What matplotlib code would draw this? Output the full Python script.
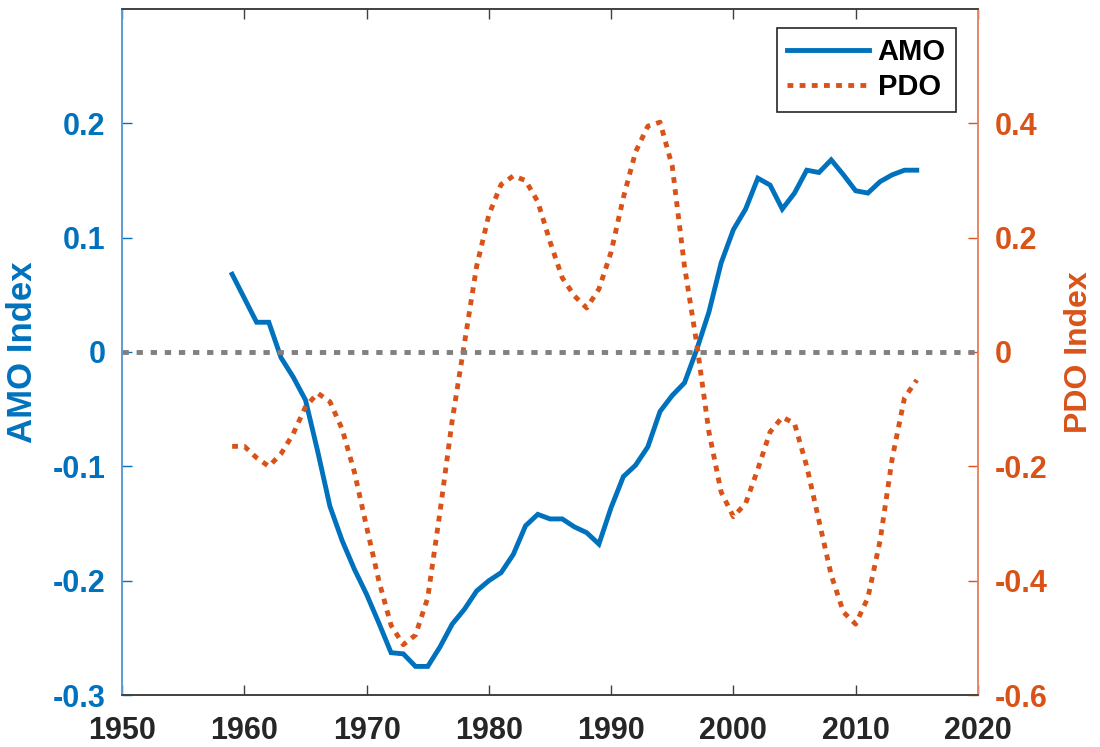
import numpy as np
import matplotlib
matplotlib.use('Agg')
from matplotlib import pyplot as plt

# Data
years = list(range(1959, 2016))

amo = [0.068, 0.047, 0.026, 0.026, -0.005, -0.022, -0.042, -0.087, -0.135, -0.165,
       -0.190, -0.212, -0.237, -0.263, -0.264, -0.275, -0.275, -0.258, -0.238, -0.225,
       -0.209, -0.200, -0.193, -0.177, -0.152, -0.142, -0.146, -0.146, -0.153, -0.158,
       -0.168, -0.136, -0.109, -0.099, -0.083, -0.052, -0.038, -0.027, 0.002, 0.035,
       0.078, 0.107, 0.125, 0.152, 0.146, 0.125, 0.139, 0.159, 0.157, 0.168,
       0.155, 0.141, 0.139, 0.149, 0.155, 0.159, 0.159]

pdo = [-0.165, -0.165, -0.185, -0.200, -0.178, -0.143, -0.096, -0.072, -0.087, -0.135,
       -0.210, -0.306, -0.400, -0.478, -0.512, -0.495, -0.430, -0.280, -0.120, 0.015,
       0.150, 0.240, 0.293, 0.308, 0.300, 0.263, 0.193, 0.130, 0.098, 0.077,
       0.110, 0.175, 0.270, 0.350, 0.395, 0.402, 0.325, 0.150, 0.015, -0.140,
       -0.245, -0.288, -0.265, -0.205, -0.140, -0.114, -0.125, -0.200, -0.295, -0.390,
       -0.455, -0.476, -0.430, -0.330, -0.185, -0.080, -0.049]

xticks = [1950, 1960, 1970, 1980, 1990, 2000, 2010, 2020]
amo_ticks = [-0.3, -0.2, -0.1, 0, 0.1, 0.2]
amo_labels = ['-0.3', '-0.2', '-0.1', '0', '0.1', '0.2']
pdo_ticks = [-0.6, -0.4, -0.2, 0, 0.2, 0.4]
pdo_labels = ['-0.6', '-0.4', '-0.2', '0', '0.2', '0.4']

blue = '#0072BD'
orange = '#D95319'

plt.rcParams['font.family'] = ['Liberation Sans', 'DejaVu Sans']
plt.rcParams['font.weight'] = 'bold'

fig = plt.figure(figsize=(11, 7.47), dpi=100)
ax = fig.add_axes([0.111, 0.0696, 0.778, 0.9184])
ax2 = ax.twinx()

# AMO on left axis
l1, = ax.plot(years, amo, color=blue, lw=3.5, solid_joinstyle='miter', label='AMO')
ax.set_xlim(1950, 2020)
ax.set_ylim(-0.3, 0.3)
ax.set_xticks(xticks)
ax.set_xticklabels([str(x) for x in xticks], fontsize=22, fontweight='bold', color='#262626')
ax.set_yticks(amo_ticks)
ax.set_yticklabels(amo_labels, fontsize=22, fontweight='bold', color=blue)
ax.set_ylabel('AMO Index', fontsize=25, fontweight='bold', color=blue, labelpad=10)
ax.tick_params(axis='x', direction='in', length=7, width=1, color='#404040', pad=15,
               top=True)
ax.tick_params(axis='y', direction='in', length=7, width=1, color=blue, pad=12)

# PDO on right axis
l2, = ax2.plot(years, pdo, color=orange, lw=3.5, dashes=(1.2, 1.3), dash_capstyle='butt',
               label='PDO')
ax2.set_ylim(-0.6, 0.6)
ax2.set_yticks(pdo_ticks)
ax2.set_yticklabels(pdo_labels, fontsize=22, fontweight='bold', color=orange)
ax2.set_ylabel('PDO Index', fontsize=23, fontweight='bold', color=orange, labelpad=12)
ax2.tick_params(axis='y', direction='in', length=7, width=1, color=orange, pad=12)

# zero line
ax2.axhline(0, color='#808080', lw=3.5, dashes=(1.3, 1.6), dash_capstyle='butt')

for a in (ax, ax2):
    a.spines['top'].set_color('#404040')
    a.spines['bottom'].set_color('#404040')
    a.spines['left'].set_color('#5b9bd5')
    a.spines['right'].set_color('#e8866a')
    for s in a.spines.values():
        s.set_linewidth(1.2)

leg = ax2.legend(handles=[l1, l2], loc='upper right', bbox_to_anchor=(0.9743, 0.9723),
                 borderaxespad=0, prop={'weight': 'bold', 'size': 21},
                 handlelength=2.8, handletextpad=0.3, labelspacing=0.25,
                 borderpad=0.35, fancybox=False, framealpha=1, edgecolor='#262626')
leg.get_frame().set_linewidth(1.2)

fig.savefig('out.png', dpi=100)
